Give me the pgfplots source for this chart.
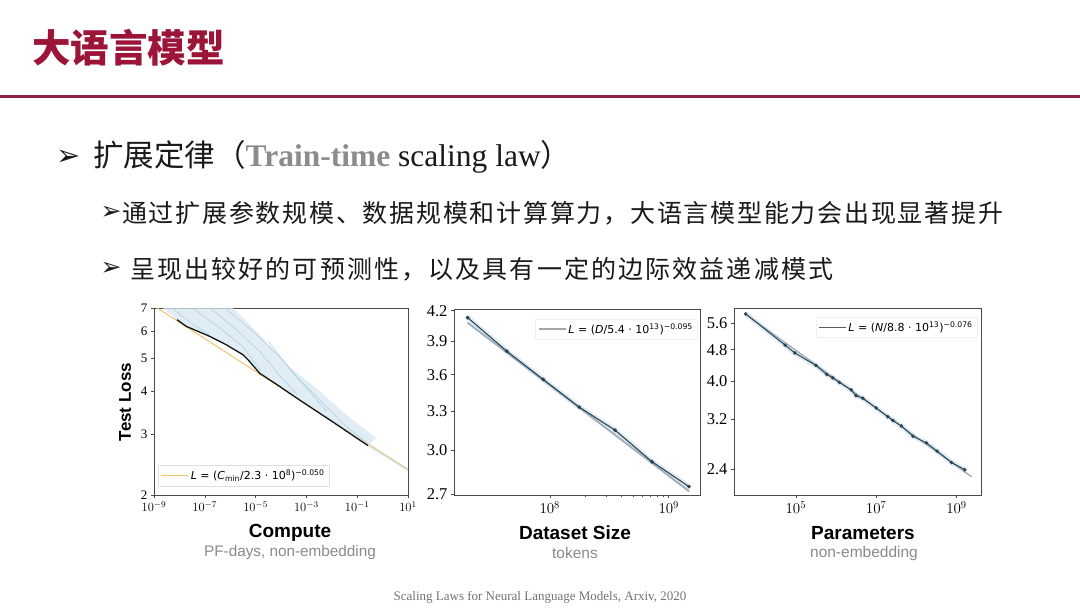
\RequirePackage{fix-cm}
\documentclass[border=0pt]{standalone}
\usepackage{fontspec}
\usepackage{xcolor}
\usepackage{pgfplots}
\pgfplotsset{compat=1.18}
\setmainfont{Liberation Serif}
\newfontfamily\cjk{Noto Sans CJK SC}
\newfontfamily\cjkls[LetterSpace=7]{Noto Sans CJK SC}
\newfontfamily\cjklt[LetterSpace=8.5]{Noto Sans CJK SC}
\newfontfamily\lsans{Liberation Sans}
\newfontfamily\dv{DejaVu Sans}
\definecolor{titlered}{HTML}{9C1538}
\definecolor{rulered}{HTML}{8E1D3F}
\definecolor{bodyblack}{HTML}{1A1A1A}
\definecolor{lgray}{HTML}{8A8A8A}
\definecolor{axisgray}{HTML}{4A4A4A}
\definecolor{fitorange}{HTML}{F2C46D}
\definecolor{shadeblue}{HTML}{D6E7F1}
\definecolor{streakblue}{HTML}{A9CCE0}
\definecolor{dataslate}{HTML}{2E4350}
\definecolor{fitsteel}{HTML}{9DB2BE}
\definecolor{trgray}{HTML}{8C8C8C}
\pgfplotsset{
  slide/.style={scale only axis, anchor=south west,
    axis line style={axisgray, line width=0.6pt},
    tick style={axisgray, line width=0.5pt},
    tick align=outside, xtick pos=bottom, ytick pos=left,
    major tick length=3pt, minor tick length=1.8pt,
    yminorticks=false,
    legend cell align=left},
}
\begin{document}
\begin{tikzpicture}
\fill[white] (0,0) rectangle (1080pt,-608pt);
\path[use as bounding box] (0,0) rectangle (1080pt,-608pt);
\begin{scope}[x=1pt,y=-1pt]
  % title and rule
  \node[anchor=west, inner sep=0, text=titlered] at (32,48) {\cjk\bfseries\fontsize{38.5}{40}\selectfont 大语言模型};
  \draw[rulered, line width=2.2pt] (0,96.5) -- (1080,96.5);
  % bullets
  \node[inner sep=0, text=bodyblack] at (69,158) {\dv\fontsize{29}{31}\selectfont ➢};
  \node[anchor=west, inner sep=0, text=bodyblack] at (93,157) {\fontsize{31.5}{34}\selectfont{\cjk\fontsize{30.5}{34}\selectfont 扩展定律（}{\bfseries\color{trgray}Train-time} scaling law{\cjk\fontsize{30.5}{34}\selectfont ）}};
  \node[inner sep=0, text=bodyblack] at (111,213) {\dv\fontsize{25}{27}\selectfont ➢};
  \node[anchor=west, inner sep=0, text=bodyblack] at (122,213) {\cjkls\fontsize{25}{28}\selectfont 通过扩展参数规模、数据规模和计算算力，大语言模型能力会出现显著提升};
  \node[inner sep=0, text=bodyblack] at (111,269) {\dv\fontsize{25}{27}\selectfont ➢};
  \node[anchor=west, inner sep=0, text=bodyblack] at (130,269) {\cjklt\fontsize{25}{28}\selectfont 呈现出较好的可预测性，以及具有一定的边际效益递减模式};
  % chart labels
  \node[rotate=90, inner sep=0] at (125,402) {\lsans\bfseries\fontsize{17}{19}\selectfont Test Loss};
  \node[inner sep=0] at (290,533) {\lsans\bfseries\fontsize{19}{21}\selectfont Compute};
  \node[inner sep=0, text=lgray] at (290,553) {\lsans\fontsize{15.3}{17}\selectfont PF-days, non-embedding};
  \node[inner sep=0] at (575,533) {\lsans\bfseries\fontsize{19}{21}\selectfont Dataset Size};
  \node[inner sep=0, text=lgray] at (575,553) {\lsans\fontsize{15.5}{17}\selectfont tokens};
  \node[inner sep=0] at (863,533) {\lsans\bfseries\fontsize{19}{21}\selectfont Parameters};
  \node[inner sep=0, text=lgray] at (864,553) {\lsans\fontsize{15.5}{17}\selectfont non-embedding};
  % footer
  \node[inner sep=0, text=black!55] at (540,597) {\fontsize{13}{15}\selectfont Scaling Laws for Neural Language Models, Arxiv, 2020};
\end{scope}

% ---------------- Chart 1: Compute ----------------
\begin{axis}[xmode=log, ymode=log, slide, at={(154pt,-495pt)}, width=254pt, height=187pt,
  xmin=1e-9, xmax=10, ymin=2, ymax=7,
  xtick={1e-9,1e-7,1e-5,1e-3,1e-1,1e1}, xminorticks=false,
  ytick={2,3,4,5,6,7}, yticklabels={2,3,4,5,6,7},
  xticklabel style={font=\fontsize{12.5}{14}\selectfont},
  yticklabel style={font=\fontsize{13}{14}\selectfont},
  legend style={at={(0.016,0.048)}, anchor=south west, draw=black!12, fill=white,
    font=\dv\fontsize{11}{13}\selectfont, inner sep=2.5pt},
  legend image code/.code={\draw[#1] (0pt,0pt) -- (27pt,0pt);},
]
\addplot[fitorange, line width=1pt] coordinates {(1e-9,7.1) (10,2.37)};
\addlegendentry{\textit{L} = (\textit{C}\textsubscript{min}/2.3 · 10\textsuperscript{8})\textsuperscript{−0.050}}
\addplot[draw=none, fill=shadeblue, fill opacity=0.75, forget plot] coordinates {
 (2.24e-9,7) (8.13e-9,6.47) (1.86e-8,6.19) (1.55e-7,5.79) (7.08e-7,5.47) (3.16e-6,5.12)
 (5.01e-6,4.95) (1.45e-5,4.52) (6.61e-5,4.20) (5.37e-4,3.78) (2.45e-3,3.51) (1.12e-2,3.26)
 (6.76e-2,2.98) (0.266,2.785) (0.562,2.93) (3.72e-2,3.42) (2.45e-3,4.09) (1.62e-4,4.79)
 (1.45e-5,5.85) (1.29e-6,7)};
\addplot[streakblue, line width=0.8pt, opacity=0.7, forget plot] coordinates {(5.0e-9,7) (3.16e-8,6.3) (1.58e-7,5.85)};
\addplot[streakblue, line width=0.8pt, opacity=0.7, forget plot] coordinates {(3.16e-8,7) (3.16e-7,6.2) (3.16e-6,5.4) (1.58e-5,4.6)};
\addplot[streakblue, line width=0.8pt, opacity=0.7, forget plot] coordinates {(1.58e-7,7) (1.58e-6,6.1) (1.58e-5,5.2) (1e-4,4.4) (3.98e-4,3.95)};
\addplot[streakblue, line width=0.8pt, opacity=0.7, forget plot] coordinates {(6.31e-7,7) (1e-5,5.9) (1e-4,5.0) (1e-3,4.1) (6.31e-3,3.5)};
\addplot[streakblue, line width=0.8pt, opacity=0.7, forget plot] coordinates {(3.16e-5,5.6) (3.16e-4,4.5) (3.16e-3,3.8) (3.16e-2,3.2) (0.251,2.83)};
\addplot[streakblue, line width=2.5pt, opacity=0.35, forget plot] coordinates {(0.266,2.785) (10,2.37)};
\addplot[black!92, line width=1.3pt, forget plot] coordinates {
 (8.13e-9,6.47) (1.86e-8,6.19) (1.55e-7,5.79) (7.08e-7,5.47) (3.16e-6,5.12) (5.01e-6,4.95)
 (1.45e-5,4.52) (6.61e-5,4.20) (5.37e-4,3.78) (2.45e-3,3.51) (1.12e-2,3.26) (6.76e-2,2.98) (0.266,2.785)};
\end{axis}

% ---------------- Chart 2: Dataset Size ----------------
\begin{axis}[xmode=log, ymode=log, slide, at={(454pt,-495pt)}, width=246pt, height=186pt,
  xmin=1.567e7, xmax=1.832e9, ymin=2.695, ymax=4.217,
  xtick={1e8,1e9},
  ytick={2.7,3.0,3.3,3.6,3.9,4.2}, yticklabels={2.7,3.0,3.3,3.6,3.9,4.2},
  xticklabel style={font=\fontsize{15}{16}\selectfont},
  yticklabel style={font=\fontsize{16.5}{18}\selectfont},
  legend style={at={(0.99,0.948)}, anchor=north east, draw=black!6, fill=white,
    font=\dv\fontsize{11}{13}\selectfont, inner sep=2.5pt},
  legend image code/.code={\draw[#1] (0pt,0pt) -- (27pt,0pt);},
]
\addplot[black!35, line width=1.8pt] coordinates {(2.04e7,4.08) (1.48e9,2.72)};
\addlegendentry{\textit{L} = (\textit{D}/5.4 · 10\textsuperscript{13})\textsuperscript{−0.095}}
\addplot[shadeblue, line width=5pt, opacity=0.8, forget plot] coordinates {
 (2.04e7,4.13) (4.35e7,3.81) (8.8e7,3.56) (1.77e8,3.33) (3.54e8,3.15) (7.23e8,2.92) (1.48e9,2.75)};
\addplot[fitsteel, line width=1.6pt, forget plot] coordinates {(2.04e7,4.08) (1.48e9,2.72)};
\addplot[dataslate, line width=1.1pt, mark=*, mark size=1.3pt, forget plot] coordinates {
 (2.04e7,4.13) (4.35e7,3.81) (8.8e7,3.56) (1.77e8,3.33) (3.54e8,3.15) (7.23e8,2.92) (1.48e9,2.75)};
\end{axis}

% ---------------- Chart 3: Parameters ----------------
\begin{axis}[xmode=log, ymode=log, slide, at={(734pt,-495pt)}, width=247pt, height=187pt,
  xmin=2884, xmax=4.07e9, ymin=2.06, ymax=6.12,
  xtick={1e5,1e7,1e9}, xminorticks=false,
  ytick={2.4,3.2,4.0,4.8,5.6}, yticklabels={2.4,3.2,4.0,4.8,5.6},
  xticklabel style={font=\fontsize{15}{16}\selectfont},
  yticklabel style={font=\fontsize{16.5}{18}\selectfont},
  legend style={at={(0.985,0.953)}, anchor=north east, draw=black!6, fill=white,
    font=\dv\fontsize{11}{13}\selectfont, inner sep=2.5pt},
  legend image code/.code={\draw[#1] (0pt,0pt) -- (27pt,0pt);},
]
\addplot[black!65, line width=0.8pt] coordinates {(5.62e3,5.9) (2.37e9,2.29)};
\addlegendentry{\textit{L} = (\textit{N}/8.8 · 10\textsuperscript{13})\textsuperscript{−0.076}}
\addplot[shadeblue, line width=5pt, opacity=0.8, forget plot] coordinates {
 (5.62e3,5.915) (5.41e4,4.93) (9.44e4,4.71) (3.16e5,4.38) (5.85e5,4.156) (8.26e5,4.075)
 (1.21e6,3.97) (2.37e6,3.80) (3.16e6,3.673) (4.64e6,3.62) (1e7,3.42) (1.95e7,3.25)
 (2.61e7,3.18) (4.22e7,3.08) (8.26e7,2.90) (1.78e8,2.79) (3.29e8,2.66) (7.5e8,2.49) (1.61e9,2.386)};
\addplot[fitsteel, line width=1.2pt, forget plot] coordinates {(5.62e3,5.9) (2.37e9,2.29)};
\addplot[dataslate, line width=1.0pt, mark=*, mark size=1.2pt, forget plot] coordinates {
 (5.62e3,5.915) (5.41e4,4.93) (9.44e4,4.71) (3.16e5,4.38) (5.85e5,4.156) (8.26e5,4.075)
 (1.21e6,3.97) (2.37e6,3.80) (3.16e6,3.673) (4.64e6,3.62) (1e7,3.42) (1.95e7,3.25)
 (2.61e7,3.18) (4.22e7,3.08) (8.26e7,2.90) (1.78e8,2.79) (3.29e8,2.66) (7.5e8,2.49) (1.61e9,2.386)};
\end{axis}
\end{tikzpicture}
\end{document}
